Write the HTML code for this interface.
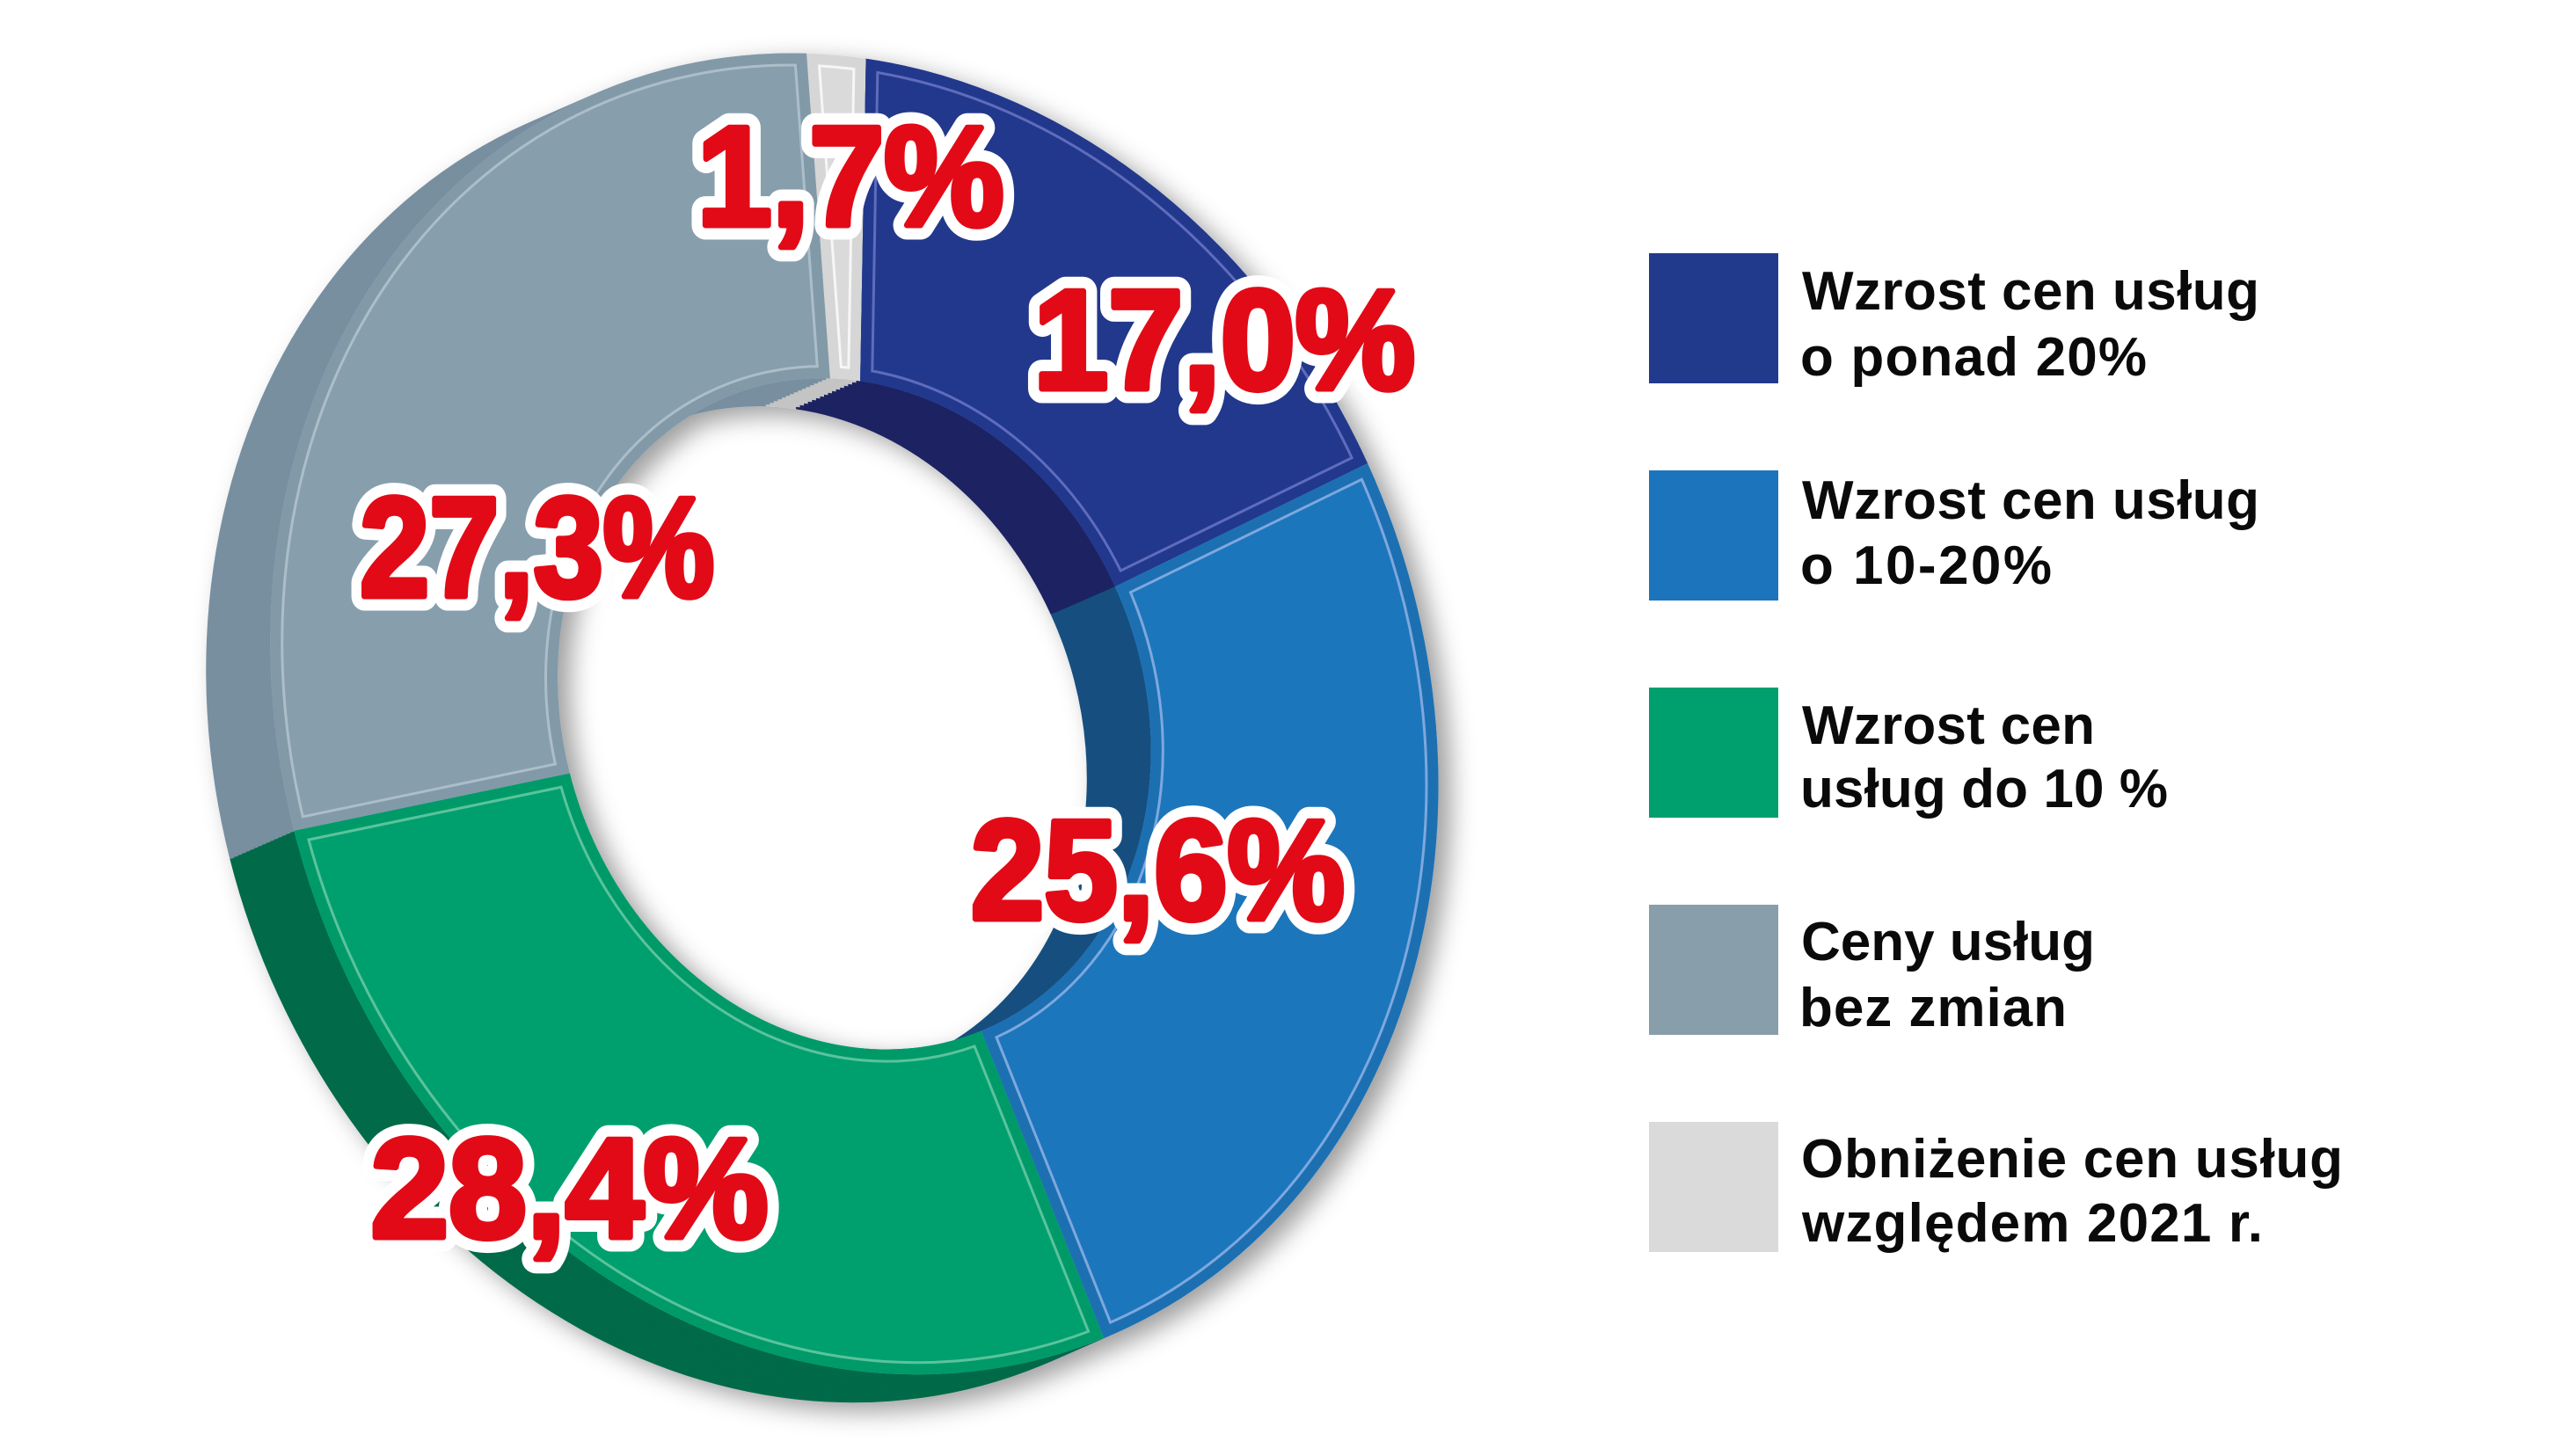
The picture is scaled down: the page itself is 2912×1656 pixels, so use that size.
<!DOCTYPE html>
<html>
<head>
<meta charset="utf-8">
<style>
html,body{margin:0;padding:0;background:#ffffff;}
svg{display:block;}
</style>
</head>
<body>
<svg xmlns="http://www.w3.org/2000/svg" xmlns:xlink="http://www.w3.org/1999/xlink" width="2912" height="1656" viewBox="0 0 2912 1656">
<defs>
  <path id="sL" d="M917.0 60.8 A648.6 764.7 -20.6 0 1 984.6 66.8 L978.1 433.4 A329.5 388.5 -20.6 0 0 943.8 430.3 Z"/>
  <path id="sN" d="M984.6 66.8 A648.6 764.7 -20.6 0 1 1555.0 527.0 L1267.9 667.2 A329.5 388.5 -20.6 0 0 978.1 433.4 Z"/>
  <path id="sB" d="M1555.0 527.0 A648.6 764.7 -20.6 0 1 1255.2 1521.9 L1115.6 1172.6 A329.5 388.5 -20.6 0 0 1267.9 667.2 Z"/>
  <path id="sG" d="M1255.2 1521.9 A648.6 764.7 -20.6 0 1 334.3 944.8 L647.8 879.4 A329.5 388.5 -20.6 0 0 1115.6 1172.6 Z"/>
  <path id="sR" d="M334.3 944.8 A648.6 764.7 -20.6 0 1 917.0 60.8 L943.8 430.3 A329.5 388.5 -20.6 0 0 647.8 879.4 Z"/>
  <g id="dk">
    <use href="#sL" xlink:href="#sL" fill="#c4c4c4"/>
    <use href="#sN" xlink:href="#sN" fill="#1c2462"/>
    <use href="#sB" xlink:href="#sB" fill="#164f7f"/>
    <use href="#sG" xlink:href="#sG" fill="#006a48"/>
    <use href="#sR" xlink:href="#sR" fill="#788fa0"/>
  </g>
  <clipPath id="cL"><use href="#sL" xlink:href="#sL"/></clipPath>
  <clipPath id="cN"><use href="#sN" xlink:href="#sN"/></clipPath>
  <clipPath id="cB"><use href="#sB" xlink:href="#sB"/></clipPath>
  <clipPath id="cG"><use href="#sG" xlink:href="#sG"/></clipPath>
  <clipPath id="cR"><use href="#sR" xlink:href="#sR"/></clipPath>
  <filter id="sh" filterUnits="userSpaceOnUse" x="0" y="0" width="2912" height="1656">
    <feGaussianBlur in="SourceAlpha" stdDeviation="14"/>
    <feOffset dx="14" dy="10" result="o"/>
    <feFlood flood-color="#000000" flood-opacity="0.38"/>
    <feComposite in2="o" operator="in"/>
    <feMerge><feMergeNode/><feMergeNode in="SourceGraphic"/></feMerge>
  </filter>
</defs>

<rect x="0" y="0" width="2912" height="1656" fill="#ffffff"/>

<g filter="url(#sh)">
  <use href="#dk" xlink:href="#dk" transform="translate(-73 32)"/>
  <use href="#dk" xlink:href="#dk" transform="translate(-68.44 30)"/>
  <use href="#dk" xlink:href="#dk" transform="translate(-63.88 28)"/>
  <use href="#dk" xlink:href="#dk" transform="translate(-59.31 26)"/>
  <use href="#dk" xlink:href="#dk" transform="translate(-54.75 24)"/>
  <use href="#dk" xlink:href="#dk" transform="translate(-50.19 22)"/>
  <use href="#dk" xlink:href="#dk" transform="translate(-45.63 20)"/>
  <use href="#dk" xlink:href="#dk" transform="translate(-41.06 18)"/>
  <use href="#dk" xlink:href="#dk" transform="translate(-36.5 16)"/>
  <use href="#dk" xlink:href="#dk" transform="translate(-31.94 14)"/>
  <use href="#dk" xlink:href="#dk" transform="translate(-27.38 12)"/>
  <use href="#dk" xlink:href="#dk" transform="translate(-22.81 10)"/>
  <use href="#dk" xlink:href="#dk" transform="translate(-18.25 8)"/>
  <use href="#dk" xlink:href="#dk" transform="translate(-13.69 6)"/>
  <use href="#dk" xlink:href="#dk" transform="translate(-9.13 4)"/>
  <use href="#dk" xlink:href="#dk" transform="translate(-4.56 2)"/>

  <!-- faces -->
  <use href="#sL" xlink:href="#sL" fill="#dadada"/>
  <g clip-path="url(#cL)">
    <use href="#sL" xlink:href="#sL" fill="none" stroke="#f6f6f6" stroke-width="30"/>
    <use href="#sL" xlink:href="#sL" fill="none" stroke="#d6d6d6" stroke-width="24"/>
  </g>

  <use href="#sN" xlink:href="#sN" fill="#21398c"/>
  <g clip-path="url(#cN)">
    <use href="#sN" xlink:href="#sN" fill="none" stroke="#5f6cbc" stroke-width="30"/>
    <use href="#sN" xlink:href="#sN" fill="none" stroke="#21398c" stroke-width="24"/>
  </g>

  <use href="#sB" xlink:href="#sB" fill="#1b76bc"/>
  <g clip-path="url(#cB)">
    <use href="#sB" xlink:href="#sB" fill="none" stroke="#7ea8de" stroke-width="30"/>
    <use href="#sB" xlink:href="#sB" fill="none" stroke="#1a6fb2" stroke-width="24"/>
  </g>

  <use href="#sG" xlink:href="#sG" fill="#00a06e"/>
  <g clip-path="url(#cG)">
    <use href="#sG" xlink:href="#sG" fill="none" stroke="#5cc39c" stroke-width="30"/>
    <use href="#sG" xlink:href="#sG" fill="none" stroke="#009a69" stroke-width="24"/>
  </g>

  <use href="#sR" xlink:href="#sR" fill="#879ead"/>
  <g clip-path="url(#cR)">
    <use href="#sR" xlink:href="#sR" fill="none" stroke="#abbec9" stroke-width="30"/>
    <use href="#sR" xlink:href="#sR" fill="none" stroke="#8299a8" stroke-width="24"/>
  </g>
</g>

<!-- value labels: white outline layer -->
<g font-family="'Liberation Sans', Arial, sans-serif" font-weight="bold" font-size="161" fill="#ffffff" stroke="#ffffff" stroke-width="33" stroke-linejoin="round">
  <text x="792.5" y="256" textLength="349" lengthAdjust="spacingAndGlyphs">1,7%</text>
  <text x="1175" y="442" textLength="434" lengthAdjust="spacingAndGlyphs">17,0%</text>
  <text x="409.2" y="678" textLength="403" lengthAdjust="spacingAndGlyphs">27,3%</text>
  <text x="1103.9" y="1045" textLength="425" lengthAdjust="spacingAndGlyphs">25,6%</text>
  <text x="421.5" y="1407" textLength="452" lengthAdjust="spacingAndGlyphs">28,4%</text>
</g>
<!-- value labels: heavy red layer -->
<g font-family="'Liberation Sans', Arial, sans-serif" font-weight="bold" font-size="161" fill="#e20a17" stroke="#e20a17" stroke-width="7" stroke-linejoin="round">
  <text x="792.5" y="256" textLength="349" lengthAdjust="spacingAndGlyphs">1,7%</text>
  <text x="1175" y="442" textLength="434" lengthAdjust="spacingAndGlyphs">17,0%</text>
  <text x="409.2" y="678" textLength="403" lengthAdjust="spacingAndGlyphs">27,3%</text>
  <text x="1103.9" y="1045" textLength="425" lengthAdjust="spacingAndGlyphs">25,6%</text>
  <text x="421.5" y="1407" textLength="452" lengthAdjust="spacingAndGlyphs">28,4%</text>
</g>

<!-- legend -->
<rect x="1875" y="288" width="147" height="148" fill="#223a8c"/>
<rect x="1875" y="535" width="147" height="148" fill="#1c75bc"/>
<rect x="1875" y="782" width="147" height="148" fill="#00a06e"/>
<rect x="1875" y="1029" width="147" height="148" fill="#889eab"/>
<rect x="1875" y="1276" width="147" height="148" fill="#dadada"/>

<g font-family="'Liberation Sans', Arial, sans-serif" font-weight="bold" font-size="62" fill="#0a0a0a">
  <text x="2049" y="352" textLength="520" lengthAdjust="spacing">Wzrost cen usług</text>
  <text x="2047" y="427" textLength="394" lengthAdjust="spacing">o ponad 20%</text>

  <text x="2049" y="590" textLength="520" lengthAdjust="spacing">Wzrost cen usług</text>
  <text x="2047" y="664" textLength="286" lengthAdjust="spacing">o 10-20%</text>

  <text x="2049" y="846" textLength="333" lengthAdjust="spacing">Wzrost cen</text>
  <text x="2047" y="918" textLength="418" lengthAdjust="spacing">usług do 10 %</text>

  <text x="2048" y="1092" textLength="334" lengthAdjust="spacing">Ceny usług</text>
  <text x="2046" y="1167" textLength="304" lengthAdjust="spacing">bez zmian</text>

  <text x="2048" y="1339" textLength="616" lengthAdjust="spacing">Obniżenie cen usług</text>
  <text x="2049" y="1412" textLength="524" lengthAdjust="spacing">względem 2021 r.</text>
</g>
</svg>
</body>
</html>
